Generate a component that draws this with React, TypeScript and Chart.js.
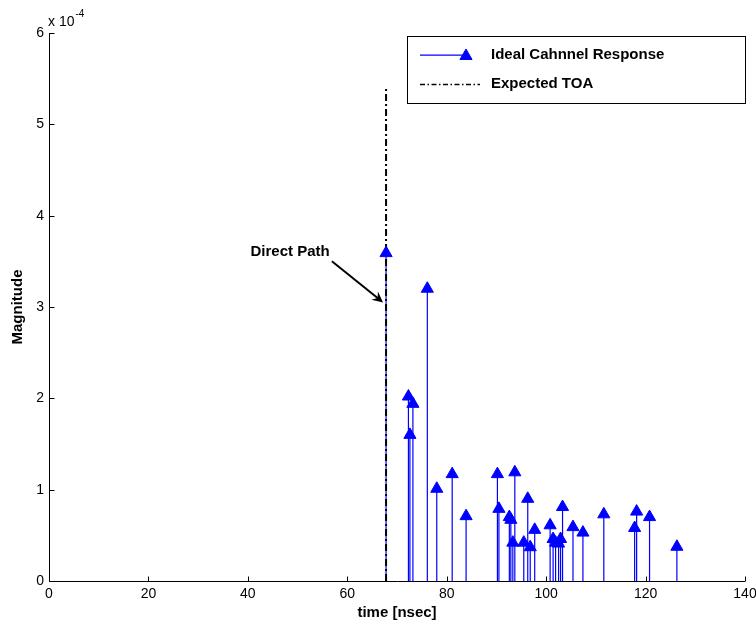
import { useEffect, useRef } from "react";
import { Chart, registerables } from "chart.js";

Chart.register(...registerables);

// ---- Data (magnitude in units of 1e-4) ----
const timeNs = [
  67.8, 72.3, 72.6, 73.2, 76.1, 78.0, 81.1, 83.9, 90.2, 90.5, 92.6, 92.9, 93.3, 93.7, 95.5, 96.3,
  96.8, 97.7, 100.8, 101.4, 101.9, 102.5, 102.9, 103.3, 105.4, 107.4, 111.6, 117.8, 118.2, 120.8, 126.3,
];
const magnitude = [
  3.59, 2.02, 1.6, 1.94, 3.2, 1.01, 1.17, 0.71, 1.17, 0.79, 0.7, 0.67, 0.42, 1.19, 0.42, 0.9,
  0.37, 0.56, 0.61, 0.46, 0.42, 0.41, 0.46, 0.81, 0.59, 0.53, 0.73, 0.58, 0.76, 0.7, 0.375,
];
const expectedToaX = [67.8, 67.8];
const expectedToaY = [0, 5.4];
const xTickValues = [0, 20, 40, 60, 80, 100, 120, 140];
const yTickValues = [0, 1, 2, 3, 4, 5, 6];
const seriesLabel = "Ideal Cahnnel Response";
const toaLabel = "Expected TOA";
const xTitle = "time [nsec]";
const yTitle = "Magnitude";
const exponentBase = "x 10";
const exponentPower = "-4";
const annotationText = "Direct Path";
const annotationTextAt = [48.5, 3.6];
const arrowFrom = [56.9, 3.5];
const arrowTo = [67.2, 3.05];

const FONT = "'Liberation Sans', Arial, sans-serif";
const BLUE = "#0000ff";
const MARKER_R = 7;

function drawTriangle(ctx: CanvasRenderingContext2D, cx: number, cy: number, r: number) {
  ctx.beginPath();
  ctx.moveTo(cx, cy - r);
  ctx.lineTo(cx + (r * Math.sqrt(3)) / 2, cy + r / 2);
  ctx.lineTo(cx - (r * Math.sqrt(3)) / 2, cy + r / 2);
  ctx.closePath();
  ctx.fillStyle = BLUE;
  ctx.fill();
  ctx.strokeStyle = BLUE;
  ctx.lineWidth = 1;
  ctx.stroke();
}

const matlabPlugin = {
  id: "matlabStyle",
  beforeDatasetsDraw(chart: any) {
    const { ctx, scales } = chart;
    const xs = scales.x;
    const ys = scales.y;
    ctx.save();
    ctx.strokeStyle = BLUE;
    ctx.lineWidth = 1.2;
    const y0 = ys.getPixelForValue(0);
    timeNs.forEach((t, i) => {
      const px = xs.getPixelForValue(t);
      ctx.beginPath();
      ctx.moveTo(px, y0);
      ctx.lineTo(px, ys.getPixelForValue(magnitude[i]));
      ctx.stroke();
    });
    ctx.restore();
  },
  afterDraw(chart: any) {
    const { ctx, scales, chartArea } = chart;
    const xs = scales.x;
    const ys = scales.y;
    const left = Math.round(chartArea.left) + 0.5;
    const bottom = Math.round(chartArea.bottom) + 0.5;
    ctx.save();
    // axes
    ctx.strokeStyle = "#000";
    ctx.lineWidth = 1;
    ctx.beginPath();
    ctx.moveTo(left, chartArea.top);
    ctx.lineTo(left, bottom);
    ctx.lineTo(chartArea.right, bottom);
    ctx.stroke();
    // inward ticks
    ctx.beginPath();
    xTickValues.forEach((v) => {
      const px = Math.round(xs.getPixelForValue(v)) + 0.5;
      ctx.moveTo(px, bottom);
      ctx.lineTo(px, bottom - 5);
    });
    yTickValues.forEach((v) => {
      const py = Math.round(ys.getPixelForValue(v)) + 0.5;
      ctx.moveTo(left, py);
      ctx.lineTo(left + 5, py);
    });
    ctx.stroke();

    // tick labels
    ctx.fillStyle = "#000";
    ctx.font = `14px ${FONT}`;
    ctx.textAlign = "center";
    ctx.textBaseline = "middle";
    xTickValues.forEach((v) => {
      ctx.fillText(String(v), xs.getPixelForValue(v), chartArea.bottom + 13);
    });
    ctx.textAlign = "right";
    yTickValues.forEach((v) => {
      ctx.fillText(String(v), chartArea.left - 5, ys.getPixelForValue(v));
    });

    // titles
    ctx.font = `bold 15px ${FONT}`;
    ctx.textAlign = "center";
    ctx.fillText(xTitle, (chartArea.left + chartArea.right) / 2, 613);
    ctx.save();
    ctx.translate(18, (chartArea.top + chartArea.bottom) / 2);
    ctx.rotate(-Math.PI / 2);
    ctx.fillText(yTitle, 0, 0);
    ctx.restore();

    // exponent
    ctx.textAlign = "left";
    ctx.font = `14px ${FONT}`;
    ctx.fillText(exponentBase, 48, 22);
    const w = ctx.measureText(exponentBase).width;
    ctx.font = `10px ${FONT}`;
    ctx.fillText(exponentPower, 48 + w + 1, 14);

    // annotation
    ctx.font = `bold 15px ${FONT}`;
    ctx.textAlign = "center";
    ctx.fillText(annotationText, xs.getPixelForValue(annotationTextAt[0]), ys.getPixelForValue(annotationTextAt[1]));
    const ax0 = xs.getPixelForValue(arrowFrom[0]);
    const ay0 = ys.getPixelForValue(arrowFrom[1]);
    const ax1 = xs.getPixelForValue(arrowTo[0]);
    const ay1 = ys.getPixelForValue(arrowTo[1]);
    const ang = Math.atan2(ay1 - ay0, ax1 - ax0);
    const headLen = 12;
    const notch = 7;
    ctx.strokeStyle = "#000";
    ctx.lineWidth = 2;
    ctx.beginPath();
    ctx.moveTo(ax0, ay0);
    ctx.lineTo(ax1 - notch * Math.cos(ang), ay1 - notch * Math.sin(ang));
    ctx.stroke();
    ctx.beginPath();
    ctx.moveTo(ax1, ay1);
    ctx.lineTo(ax1 - headLen * Math.cos(ang - 0.45), ay1 - headLen * Math.sin(ang - 0.45));
    ctx.lineTo(ax1 - notch * Math.cos(ang), ay1 - notch * Math.sin(ang));
    ctx.lineTo(ax1 - headLen * Math.cos(ang + 0.45), ay1 - headLen * Math.sin(ang + 0.45));
    ctx.closePath();
    ctx.fillStyle = "#000";
    ctx.fill();

    // legend
    ctx.fillStyle = "#fff";
    ctx.fillRect(407.5, 36.5, 338, 67);
    ctx.strokeStyle = "#000";
    ctx.lineWidth = 1;
    ctx.strokeRect(407.5, 36.5, 338, 67);
    ctx.strokeStyle = BLUE;
    ctx.lineWidth = 1.2;
    ctx.beginPath();
    ctx.moveTo(420, 55.2);
    ctx.lineTo(466, 55.2);
    ctx.stroke();
    drawTriangle(ctx, 466, 56, MARKER_R);
    ctx.strokeStyle = "#000";
    ctx.lineWidth = 1.6;
    ctx.setLineDash([5, 2.5, 1.5, 2.5]);
    ctx.beginPath();
    ctx.moveTo(420, 84.5);
    ctx.lineTo(480, 84.5);
    ctx.stroke();
    ctx.setLineDash([]);
    ctx.fillStyle = "#000";
    ctx.font = `bold 15px ${FONT}`;
    ctx.textAlign = "left";
    ctx.textBaseline = "middle";
    ctx.fillText(seriesLabel, 491, 55);
    ctx.fillText(toaLabel, 491, 84);
    ctx.restore();
  },
};

export default function App() {
  const ref = useRef<HTMLCanvasElement | null>(null);
  useEffect(() => {
    if (!ref.current) return;
    const chart = new Chart(ref.current, {
      type: "scatter",
      data: {
        datasets: [
          {
            type: "line",
            label: toaLabel,
            data: expectedToaX.map((x, i) => ({ x, y: expectedToaY[i] })),
            borderColor: "#000",
            borderWidth: 2,
            borderDash: [7, 3, 2, 3],
            pointRadius: 0,
            showLine: true,
            order: 2,
          },
          {
            label: seriesLabel,
            data: timeNs.map((x, i) => ({ x, y: magnitude[i] })),
            pointStyle: "triangle",
            pointRadius: MARKER_R,
            backgroundColor: BLUE,
            borderColor: BLUE,
            borderWidth: 1,
            showLine: false,
            order: 1,
          },
        ],
      },
      options: {
        responsive: false,
        animation: false,
        layout: { padding: { left: 49, top: 33, right: 11, bottom: 44 } },
        plugins: { legend: { display: false }, tooltip: { enabled: false } },
        scales: {
          x: {
            type: "linear",
            min: 0,
            max: 140,
            grid: { display: false, drawTicks: false },
            border: { display: false },
            afterFit: (s: any) => {
              s.height = 0;
              s.paddingLeft = 0;
              s.paddingRight = 0;
            },
            ticks: { display: false },
          },
          y: {
            type: "linear",
            min: 0,
            max: 6,
            grid: { display: false, drawTicks: false },
            border: { display: false },
            afterFit: (s: any) => {
              s.width = 0;
              s.paddingTop = 0;
              s.paddingBottom = 0;
            },
            ticks: { display: false },
          },
        },
      },
      plugins: [matlabPlugin],
    } as any);
    return () => chart.destroy();
  }, []);
  return (
    <div style={{ position: "fixed", left: 0, top: 0, width: 756, height: 625, background: "#fff" }}>
      <canvas ref={ref} width={756} height={625} />
    </div>
  );
}
